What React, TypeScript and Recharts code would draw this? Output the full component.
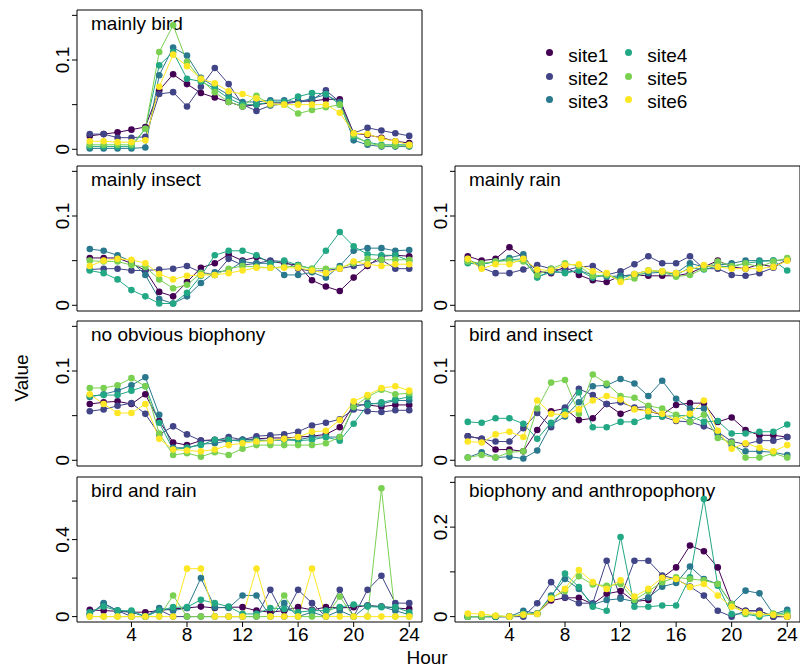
import { LineChart, Line, XAxis, YAxis, ReferenceArea, Legend } from 'recharts';

const hours = [1, 2, 3, 4, 5, 6, 7, 8, 9, 10, 11, 12, 13, 14, 15, 16, 17, 18, 19, 20, 21, 22, 23, 24];
const hourTicks = [4, 8, 12, 16, 20, 24];
const siteNames = ['site1', 'site2', 'site3', 'site4', 'site5', 'site6'];
const siteColors = ['#440154', '#414487', '#2A788E', '#22A884', '#7AD151', '#FDE725'];

// one row per site, 24 hourly values
const mainlyBird = [
  [0.015, 0.017, 0.019, 0.022, 0.025, 0.066, 0.084, 0.073, 0.063, 0.058, 0.053, 0.048, 0.05, 0.052, 0.052, 0.054, 0.054, 0.056, 0.056, 0.018, 0.016, 0.013, 0.009, 0.007],
  [0.017, 0.017, 0.013, 0.013, 0.014, 0.062, 0.064, 0.048, 0.07, 0.091, 0.073, 0.05, 0.043, 0.049, 0.051, 0.053, 0.055, 0.066, 0.053, 0.018, 0.024, 0.021, 0.018, 0.015],
  [0.001, 0.001, 0.001, 0.001, 0.002, 0.083, 0.114, 0.105, 0.08, 0.07, 0.061, 0.053, 0.053, 0.055, 0.055, 0.053, 0.057, 0.061, 0.053, 0.01, 0.005, 0.003, 0.003, 0.003],
  [0.003, 0.003, 0.003, 0.003, 0.023, 0.094, 0.109, 0.079, 0.076, 0.068, 0.057, 0.05, 0.05, 0.053, 0.053, 0.059, 0.063, 0.062, 0.05, 0.014, 0.008, 0.005, 0.005, 0.005],
  [0.005, 0.005, 0.005, 0.005, 0.023, 0.109, 0.139, 0.098, 0.078, 0.064, 0.053, 0.048, 0.06, 0.05, 0.05, 0.04, 0.044, 0.047, 0.05, 0.016, 0.007, 0.004, 0.004, 0.004],
  [0.009, 0.009, 0.008, 0.008, 0.01, 0.07, 0.106, 0.093, 0.079, 0.074, 0.065, 0.062, 0.057, 0.051, 0.05, 0.05, 0.05, 0.05, 0.041, 0.018, 0.017, 0.012, 0.009, 0.005],
];

const mainlyInsect = [
  [0.053, 0.053, 0.053, 0.047, 0.039, 0.015, 0.01, 0.026, 0.042, 0.047, 0.057, 0.05, 0.054, 0.049, 0.047, 0.045, 0.028, 0.021, 0.016, 0.031, 0.044, 0.055, 0.056, 0.055],
  [0.04, 0.041, 0.041, 0.039, 0.039, 0.04, 0.041, 0.044, 0.037, 0.034, 0.052, 0.045, 0.047, 0.05, 0.049, 0.041, 0.038, 0.039, 0.041, 0.044, 0.046, 0.051, 0.041, 0.041],
  [0.063, 0.061, 0.056, 0.049, 0.034, 0.007, 0.002, 0.01, 0.025, 0.037, 0.039, 0.049, 0.047, 0.047, 0.034, 0.034, 0.037, 0.031, 0.044, 0.061, 0.064, 0.064, 0.061, 0.062],
  [0.039, 0.036, 0.029, 0.017, 0.01, 0.002, 0.002, 0.014, 0.033, 0.056, 0.061, 0.061, 0.056, 0.047, 0.05, 0.045, 0.041, 0.061, 0.082, 0.066, 0.057, 0.056, 0.056, 0.05],
  [0.05, 0.049, 0.049, 0.045, 0.043, 0.029, 0.019, 0.023, 0.036, 0.034, 0.041, 0.044, 0.043, 0.042, 0.043, 0.044, 0.041, 0.041, 0.042, 0.047, 0.052, 0.051, 0.051, 0.051],
  [0.044, 0.05, 0.052, 0.051, 0.047, 0.035, 0.029, 0.033, 0.034, 0.034, 0.036, 0.039, 0.042, 0.042, 0.042, 0.042, 0.039, 0.036, 0.041, 0.049, 0.046, 0.044, 0.046, 0.046],
];

const mainlyRain = [
  [0.055, 0.05, 0.052, 0.065, 0.054, 0.038, 0.036, 0.043, 0.034, 0.028, 0.026, 0.033, 0.034, 0.033, 0.033, 0.033, 0.036, 0.043, 0.05, 0.043, 0.041, 0.046, 0.043, 0.051],
  [0.052, 0.042, 0.036, 0.036, 0.04, 0.045, 0.041, 0.039, 0.043, 0.044, 0.034, 0.038, 0.046, 0.055, 0.047, 0.047, 0.055, 0.041, 0.041, 0.034, 0.033, 0.036, 0.042, 0.051],
  [0.05, 0.046, 0.049, 0.053, 0.057, 0.032, 0.037, 0.037, 0.039, 0.034, 0.032, 0.033, 0.034, 0.036, 0.037, 0.036, 0.047, 0.043, 0.045, 0.047, 0.05, 0.05, 0.05, 0.051],
  [0.047, 0.046, 0.049, 0.051, 0.052, 0.031, 0.039, 0.036, 0.039, 0.031, 0.034, 0.03, 0.035, 0.039, 0.038, 0.034, 0.042, 0.04, 0.044, 0.043, 0.047, 0.049, 0.05, 0.039],
  [0.049, 0.047, 0.049, 0.05, 0.049, 0.034, 0.041, 0.047, 0.044, 0.033, 0.034, 0.028, 0.03, 0.039, 0.037, 0.032, 0.034, 0.041, 0.049, 0.044, 0.047, 0.043, 0.049, 0.053],
  [0.052, 0.041, 0.046, 0.046, 0.052, 0.04, 0.039, 0.045, 0.046, 0.038, 0.036, 0.026, 0.035, 0.039, 0.038, 0.036, 0.04, 0.045, 0.043, 0.041, 0.041, 0.041, 0.043, 0.05],
];

const noBiophony = [
  [0.063, 0.065, 0.066, 0.063, 0.074, 0.044, 0.02, 0.017, 0.022, 0.023, 0.022, 0.023, 0.024, 0.025, 0.025, 0.026, 0.027, 0.029, 0.037, 0.062, 0.062, 0.06, 0.062, 0.062],
  [0.055, 0.057, 0.061, 0.064, 0.052, 0.029, 0.038, 0.029, 0.022, 0.022, 0.026, 0.023, 0.027, 0.028, 0.029, 0.032, 0.039, 0.042, 0.046, 0.057, 0.055, 0.054, 0.056, 0.056],
  [0.071, 0.074, 0.078, 0.084, 0.093, 0.051, 0.014, 0.014, 0.018, 0.019, 0.022, 0.023, 0.023, 0.022, 0.023, 0.023, 0.026, 0.026, 0.026, 0.059, 0.064, 0.063, 0.067, 0.067],
  [0.072, 0.073, 0.073, 0.078, 0.083, 0.042, 0.012, 0.014, 0.017, 0.023, 0.023, 0.021, 0.022, 0.022, 0.023, 0.022, 0.023, 0.026, 0.022, 0.041, 0.062, 0.065, 0.068, 0.071],
  [0.081, 0.081, 0.084, 0.092, 0.083, 0.03, 0.006, 0.008, 0.004, 0.009, 0.006, 0.013, 0.017, 0.017, 0.017, 0.017, 0.017, 0.019, 0.026, 0.06, 0.071, 0.079, 0.074, 0.075],
  [0.074, 0.063, 0.053, 0.053, 0.063, 0.024, 0.012, 0.011, 0.01, 0.012, 0.017, 0.019, 0.021, 0.022, 0.024, 0.026, 0.032, 0.033, 0.045, 0.066, 0.073, 0.081, 0.083, 0.078],
];

const birdInsect = [
  [0.027, 0.024, 0.012, 0.012, 0.01, 0.034, 0.055, 0.058, 0.045, 0.047, 0.063, 0.052, 0.058, 0.055, 0.051, 0.062, 0.064, 0.064, 0.043, 0.048, 0.034, 0.028, 0.028, 0.026],
  [0.027, 0.024, 0.021, 0.021, 0.036, 0.053, 0.037, 0.059, 0.08, 0.073, 0.063, 0.065, 0.059, 0.06, 0.049, 0.044, 0.043, 0.038, 0.032, 0.021, 0.018, 0.022, 0.022, 0.026],
  [0.003, 0.009, 0.003, 0.004, 0.002, 0.011, 0.04, 0.049, 0.065, 0.083, 0.084, 0.091, 0.086, 0.072, 0.089, 0.069, 0.058, 0.058, 0.029, 0.017, 0.01, 0.01, 0.009, 0.006],
  [0.043, 0.042, 0.047, 0.047, 0.041, 0.024, 0.042, 0.055, 0.076, 0.037, 0.037, 0.043, 0.043, 0.049, 0.049, 0.05, 0.05, 0.043, 0.044, 0.03, 0.03, 0.032, 0.032, 0.04],
  [0.003, 0.006, 0.003, 0.009, 0.01, 0.058, 0.087, 0.09, 0.052, 0.096, 0.086, 0.072, 0.07, 0.061, 0.058, 0.051, 0.043, 0.051, 0.025, 0.02, 0.003, 0.003, 0.008, 0.003],
  [0.021, 0.02, 0.029, 0.032, 0.026, 0.067, 0.052, 0.051, 0.057, 0.067, 0.072, 0.068, 0.057, 0.055, 0.052, 0.045, 0.052, 0.067, 0.033, 0.013, 0.019, 0.014, 0.01, 0.017],
];

const birdRain = [
  [0.035, 0.031, 0.028, 0.023, 0.023, 0.031, 0.04, 0.045, 0.052, 0.045, 0.049, 0.049, 0.031, 0.023, 0.031, 0.049, 0.035, 0.049, 0.045, 0.049, 0.057, 0.052, 0.045, 0.04],
  [0.01, 0.066, 0.031, 0, 0, 0.035, 0, 0, 0, 0, 0, 0, 0, 0.139, 0, 0.139, 0.07, 0, 0.139, 0, 0.139, 0.212, 0.07, 0.07],
  [0.01, 0.07, 0.031, 0.023, 0, 0.045, 0.031, 0.045, 0.2, 0.049, 0.045, 0.11, 0.11, 0, 0.07, 0, 0.023, 0, 0.031, 0, 0.057, 0.052, 0.031, 0.01],
  [0.023, 0.052, 0.031, 0.031, 0, 0.031, 0.049, 0.049, 0.087, 0.07, 0.052, 0.014, 0.014, 0.045, 0.04, 0.023, 0.031, 0.031, 0.049, 0.063, 0.052, 0.049, 0.049, 0.023],
  [0, 0, 0, 0, 0, 0, 0.11, 0, 0, 0, 0, 0, 0, 0, 0.11, 0, 0, 0, 0.104, 0, 0, 0.666, 0, 0],
  [0, 0, 0, 0, 0, 0, 0, 0.249, 0.249, 0, 0, 0, 0.249, 0, 0, 0, 0.249, 0, 0, 0, 0, 0, 0, 0],
];

const bioAnthro = [
  [0, 0, 0, 0, 0.004, 0.007, 0.036, 0.042, 0.042, 0.028, 0.051, 0.057, 0.034, 0.037, 0.087, 0.11, 0.159, 0.146, 0.11, 0.028, 0.013, 0.013, 0, 0],
  [0, 0, 0, 0, 0, 0.03, 0.077, 0.043, 0.03, 0.03, 0.125, 0.043, 0.125, 0.125, 0.092, 0.084, 0.067, 0.047, 0.013, 0, 0.013, 0.013, 0, 0],
  [0, 0, 0, 0, 0.013, 0.007, 0.047, 0.084, 0.062, 0.027, 0.037, 0.04, 0.034, 0.043, 0.067, 0.075, 0.112, 0.084, 0.073, 0.028, 0.058, 0.052, 0.006, 0.015],
  [0, 0, 0, 0, 0.004, 0.006, 0.043, 0.096, 0.066, 0.022, 0.013, 0.178, 0.022, 0.022, 0.025, 0.025, 0.088, 0.263, 0.069, 0.006, 0.006, 0, 0.004, 0.01],
  [0, 0, 0.002, 0, 0.006, 0.007, 0.042, 0.057, 0.09, 0.072, 0.069, 0.073, 0.037, 0.057, 0.077, 0.088, 0.084, 0.081, 0.073, 0.028, 0.007, 0.004, 0.007, 0.004],
  [0.007, 0.006, 0.002, 0, 0.004, 0.006, 0.04, 0.062, 0.104, 0.077, 0.062, 0.081, 0.045, 0.062, 0.087, 0.084, 0.066, 0.073, 0.047, 0.022, 0.01, 0.006, 0.004, 0],
];

const FONT = 'Liberation Sans, Arial, sans-serif';
const BOX_W = 345;
const BOX_H = 145;
const AXIS_W = 60;
const colX = [77, 455];
const rowY = [10, 165.5, 321, 476.5];
const xDomain: [number, number] = [0.08, 24.92];

function toRows(series: number[][]) {
  return hours.map((h, i) => {
    const row: Record<string, number> = { hour: h };
    series.forEach((s, k) => {
      row[siteNames[k]] = s[i];
    });
    return row;
  });
}

function YTick(props: any) {
  const { x, y, payload, labels } = props;
  if (!labels.includes(payload.value)) return null;
  return (
    <text x={x} y={y} transform={`rotate(-90, ${x}, ${y})`} textAnchor="middle" fontSize={19} fill="#000">
      {String(payload.value)}
    </text>
  );
}

function SiteLegend(props: any) {
  const items = props.payload || [];
  return (
    <div style={{ position: 'relative', width: 220, height: 80, fontFamily: FONT }}>
      {items.map((item: any, i: number) => {
        const col = Math.floor(i / 3);
        const row = i % 3;
        return (
          <div key={item.value}>
            <span
              style={{
                position: 'absolute',
                left: 9.3 + col * 79 - 3.5,
                top: 12.7 + row * 23.3 - 3.5,
                width: 7,
                height: 7,
                borderRadius: '50%',
                background: item.color,
              }}
            />
            <span
              style={{
                position: 'absolute',
                left: 28.3 + col * 79,
                top: 5.6 + row * 23.3,
                fontSize: 19,
                lineHeight: '19px',
                color: '#000',
              }}
            >
              {item.value}
            </span>
          </div>
        );
      })}
    </div>
  );
}

interface PanelProps {
  title: string;
  series: number[][];
  col: number;
  row: number;
  yDomain: [number, number];
  yTicks: number[];
  yLabels: number[];
  xLabels?: boolean;
  legend?: boolean;
}

function Panel({ title, series, col, row, yDomain, yTicks, yLabels, xLabels, legend }: PanelProps) {
  const left = colX[col] - AXIS_W;
  const top = rowY[row] - 4;
  const xAxisH = xLabels ? 32 : 8;
  const width = legend ? 800 - left : AXIS_W + BOX_W + 4;
  const height = 4 + BOX_H + xAxisH;
  return (
    <div style={{ position: 'absolute', left, top }}>
      <LineChart
        width={width}
        height={height}
        data={toRows(series)}
        margin={{ top: 4, right: width - AXIS_W - BOX_W, bottom: 0, left: 0 }}
      >
        <XAxis
          type="number"
          dataKey="hour"
          domain={xDomain}
          ticks={hourTicks}
          interval={0}
          allowDataOverflow
          axisLine={false}
          tickSize={5}
          tickMargin={1}
          height={xAxisH}
          tickLine={{ stroke: '#000' }}
          tick={xLabels ? { fill: '#000', fontSize: 19 } : false}
        />
        <YAxis
          type="number"
          domain={yDomain}
          ticks={yTicks}
          interval={0}
          allowDataOverflow
          axisLine={false}
          width={AXIS_W}
          tickSize={5}
          tickMargin={3}
          tickLine={{ stroke: '#000' }}
          tick={<YTick labels={yLabels} />}
        />
        <ReferenceArea
          x1={xDomain[0]}
          x2={xDomain[1]}
          y1={yDomain[0]}
          y2={yDomain[1]}
          fill="none"
          fillOpacity={0}
          stroke="#000"
          strokeWidth={1}
          ifOverflow="visible"
          label={(p: any) => (
            <text x={p.viewBox.x + 14} y={p.viewBox.y + 19.5} fontSize={19} fill="#000">
              {title}
            </text>
          )}
        />
        {siteNames.map((name, k) => (
          <Line
            key={name}
            name={name}
            dataKey={name}
            stroke={siteColors[k]}
            strokeWidth={1}
            dot={{ r: 3.3, fill: siteColors[k], stroke: siteColors[k], strokeWidth: 0 }}
            isAnimationActive={false}
          />
        ))}
        {legend && (
          <Legend
            layout="horizontal"
            verticalAlign="middle"
            align="center"
            content={<SiteLegend />}
            wrapperStyle={{ position: 'absolute', left: 540 - left, top: 40 - top, width: 220, height: 80 }}
          />
        )}
      </LineChart>
    </div>
  );
}

const smallDomain: [number, number] = [-0.0064, 0.156];
const smallTicks = [0, 0.05, 0.1, 0.15];
const smallLabels = [0, 0.1];

export default function App() {
  return (
    <div style={{ position: 'absolute', left: 0, top: 0, width: 800, height: 671, background: '#fff', fontFamily: FONT }}>
      <Panel title="mainly bird" series={mainlyBird} col={0} row={0} yDomain={smallDomain} yTicks={smallTicks} yLabels={smallLabels} legend />
      <Panel title="mainly insect" series={mainlyInsect} col={0} row={1} yDomain={smallDomain} yTicks={smallTicks} yLabels={smallLabels} />
      <Panel title="mainly rain" series={mainlyRain} col={1} row={1} yDomain={smallDomain} yTicks={smallTicks} yLabels={smallLabels} />
      <Panel title="no obvious biophony" series={noBiophony} col={0} row={2} yDomain={smallDomain} yTicks={smallTicks} yLabels={smallLabels} />
      <Panel title="bird and insect" series={birdInsect} col={1} row={2} yDomain={smallDomain} yTicks={smallTicks} yLabels={smallLabels} />
      <Panel title="bird and rain" series={birdRain} col={0} row={3} yDomain={[-0.028, 0.725]} yTicks={[0, 0.2, 0.4, 0.6]} yLabels={[0, 0.4]} xLabels />
      <Panel title="biophony and anthropophony" series={bioAnthro} col={1} row={3} yDomain={[-0.012, 0.312]} yTicks={[0, 0.1, 0.2, 0.3]} yLabels={[0, 0.2]} xLabels />
      <div style={{ position: 'absolute', left: 377, top: 647, width: 100, textAlign: 'center', fontSize: 19, lineHeight: '22px', color: '#000' }}>
        Hour
      </div>
      <div
        style={{
          position: 'absolute',
          left: 22 - 50,
          top: 378 - 11,
          width: 100,
          textAlign: 'center',
          fontSize: 19,
          lineHeight: '22px',
          color: '#000',
          transform: 'rotate(-90deg)',
        }}
      >
        Value
      </div>
    </div>
  );
}
